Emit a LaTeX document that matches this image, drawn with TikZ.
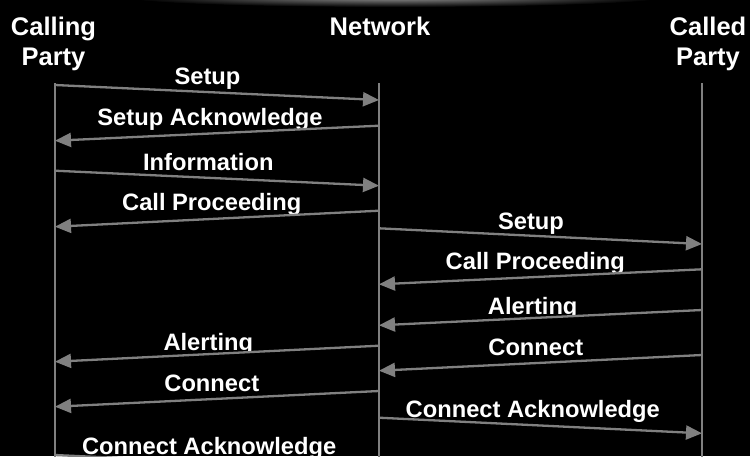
\documentclass[tikz,border=0pt]{standalone}
\usepackage{fontspec}
\setmainfont{Liberation Sans}
\usetikzlibrary{arrows.meta}
\definecolor{wire}{RGB}{128,128,128}
\begin{document}
\begin{tikzpicture}[x=1pt,y=-1pt,
  lifeline/.style={draw=wire,line width=2.3pt},
  msg/.style={draw=wire,line width=2.3pt,-{Triangle[length=16pt,width=14pt]}},
  head/.style={text=white,font=\fontsize{25.5}{28}\selectfont\bfseries,anchor=base,inner sep=0pt},
  lbl/.style={text=white,font=\fontsize{23.7}{26}\selectfont\bfseries,anchor=base,inner sep=0pt}]
  % canvas
  \fill[black] (0,0) rectangle (750,456);
  \useasboundingbox (0,0) rectangle (750,456);
  \clip (0,0) rectangle (750,456);
  % faint glow along the top edge
  \shade[inner color=white!60!black,outer color=black] (395,-3) ellipse (270 and 10);

  % column headings
  \node[head] (hcalling) at (53.5,35) {Calling};
  \node[head] (hcallingb) at (53.5,65) {Party};
  \node[head] (hnet) at (380,35) {Network};
  \node[head] (hcalled) at (708,35) {Called};
  \node[head] (hcalledb) at (708,65) {Party};

  % lifeline end points
  \coordinate (Ltop) at (55,83);   \coordinate (Lbot) at (55,460);
  \coordinate (Ntop) at (379,83);  \coordinate (Nbot) at (379,460);
  \coordinate (Rtop) at (702,83);  \coordinate (Rbot) at (702,460);

  % message end points
  \coordinate (m1a) at (55,85);      \coordinate (m1b) at (379,100);
  \coordinate (m2a) at (379,125.7);  \coordinate (m2b) at (55,140.7);
  \coordinate (m3a) at (55,170.7);   \coordinate (m3b) at (379,185.7);
  \coordinate (m4a) at (379,210.7);  \coordinate (m4b) at (55,226.7);
  \coordinate (m5a) at (379,228.3);  \coordinate (m5b) at (702,244);
  \coordinate (m6a) at (702,269.3);  \coordinate (m6b) at (379,284.3);
  \coordinate (m7a) at (702,310);    \coordinate (m7b) at (379,325.3);
  \coordinate (m8a) at (702,355);    \coordinate (m8b) at (379,370.7);
  \coordinate (m9a) at (379,345.7);  \coordinate (m9b) at (55,361.7);
  \coordinate (m10a) at (379,391);   \coordinate (m10b) at (55,406.7);
  \coordinate (m11a) at (379,417.7); \coordinate (m11b) at (702,433.3);
  \coordinate (m12a) at (55,455);    \coordinate (m12b) at (379,470);

  % message labels
  \node[lbl] (t1) at (207.5,84.3) {Setup};
  \node[lbl] (t2) at (210,125) {Setup Acknowledge};
  \node[lbl] (t3) at (208.3,170) {Information};
  \node[lbl] (t4) at (211.7,210) {Call Proceeding};
  \node[lbl] (t5) at (531,229.3) {Setup};
  \node[lbl] (t6) at (535.3,269) {Call Proceeding};
  \begin{scope}
    \clip (470,290) rectangle (600,314.3);
    \node[lbl] (t7) at (532.7,314.3) {Alerting};
  \end{scope}
  \node[lbl] (t8) at (535.8,355) {Connect};
  \begin{scope}
    \clip (150,325) rectangle (280,350);
    \node[lbl] (t9) at (208.3,350) {Alerting};
  \end{scope}
  \node[lbl] (t10) at (211.8,391) {Connect};
  \node[lbl] (t11) at (532.8,417.7) {Connect Acknowledge};
  \node[lbl] (t12) at (209.2,454.3) {Connect Acknowledge};

  % lifelines
  \draw[lifeline] (Ltop) -- (Lbot);
  \draw[lifeline] (Ntop) -- (Nbot);
  \draw[lifeline] (Rtop) -- (Rbot);

  % messages
  \foreach \m in {1,...,11}
    \draw[msg] (m\m a) -- (m\m b);
  \draw[lifeline] (m12a) -- (m12b);
\end{tikzpicture}
\end{document}
